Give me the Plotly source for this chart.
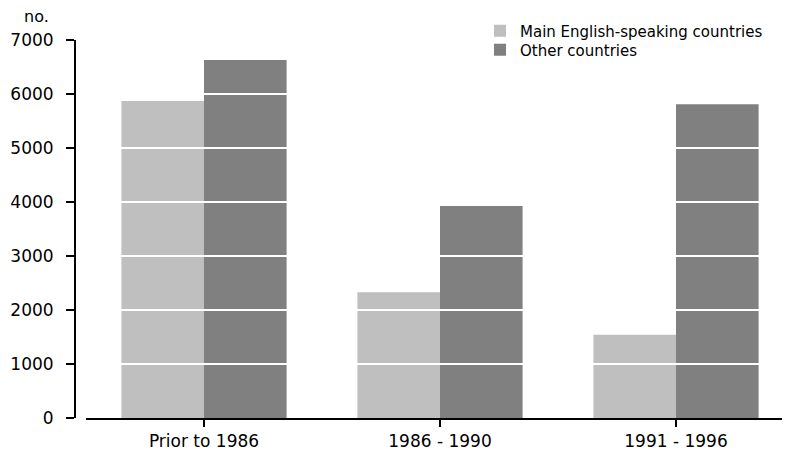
import plotly.graph_objects as go

categories = ["Prior to 1986", "1986 - 1990", "1991 - 1996"]
main_english = [5870, 2330, 1540]
other_countries = [6630, 3925, 5810]
series_names = ["Main English-speaking countries", "Other countries"]
y_ticks = [0, 1000, 2000, 3000, 4000, 5000, 6000, 7000]

FONT = "DejaVu Sans"
# page body has an 8px margin; size the figure so it fills the 790x452 window
W, H = 782, 444
ML, MR, MT, MB = 67, 0, 32, 34
GAP = 11  # distance between y-axis line and start of x-axis
plot_w = W - ML - MR
plot_h = H - MT - MB

fig = go.Figure()
fig.add_trace(go.Bar(x=categories, y=main_english, name=series_names[0], legend="legend",
                     marker=dict(color="#bfbfbf", line=dict(width=0))))
fig.add_trace(go.Bar(x=categories, y=other_countries, name=series_names[1], legend="legend2",
                     marker=dict(color="#808080", line=dict(width=0))))

# white gridlines drawn above bars
for t in y_ticks[1:-1]:
    fig.add_shape(type="line", xref="paper", yref="y", x0=GAP/plot_w, x1=1, y0=t, y1=t,
                  line=dict(color="white", width=2), layer="above")

fig.add_annotation(text="no.", xref="paper", yref="paper", x=(43-ML)/plot_w, y=1 + (MT-9)/plot_h,
                   xanchor="right", yanchor="middle", showarrow=False,
                   font=dict(family=FONT, size=16, color="black"))

leg_common = dict(xanchor="left", yanchor="middle",
                  font=dict(family=FONT, size=15, color="black"),
                  bgcolor="rgba(0,0,0,0)", itemwidth=30)

fig.update_layout(
    width=W, height=H,
    margin=dict(l=ML, r=MR, t=MT, b=MB, autoexpand=False),
    plot_bgcolor="white", paper_bgcolor="white",
    barmode="group", bargap=0.3, bargroupgap=0,
    font=dict(family=FONT, size=17, color="black"),
    showlegend=True,
    legend=dict(x=(472-ML)/plot_w, y=1 + (MT-23)/plot_h, **leg_common),
    legend2=dict(x=(472-ML)/plot_w, y=1 - (42-MT)/plot_h, **leg_common),
    xaxis=dict(domain=[GAP/plot_w, 1], range=[-0.5, -0.5 + (plot_w - GAP)/236],
               showline=True, linecolor="black", linewidth=2,
               ticks="outside", ticklen=7, tickcolor="black", tickwidth=2,
               showgrid=False, zeroline=False, anchor="y",
               tickfont=dict(family=FONT, size=17)),
    yaxis=dict(range=[0, 7000], tickvals=y_ticks, anchor="free", position=0,
               showline=True, linecolor="black", linewidth=2,
               ticks="outside", ticklen=8, tickcolor="black", tickwidth=2,
               showgrid=False, zeroline=False, ticklabelstandoff=9,
               tickfont=dict(family=FONT, size=17)),
)

fig.write_html("out.html")
